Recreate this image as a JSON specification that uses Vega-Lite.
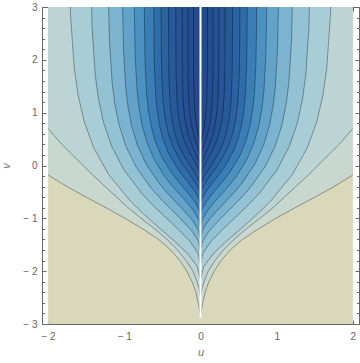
{
"$schema": "https://vega.github.io/schema/vega-lite/v6.json",
"width": 317, "height": 317,
"autosize": {"type": "none"},
"padding": {"left": 42, "top": 7, "right": 1, "bottom": 39},
"config": {"view": {"stroke": null}, "axis": {"labelFont": "Liberation Sans", "titleFont": "Liberation Sans", "labelColor": "#666", "tickColor": "#666", "domainColor": "#666", "grid": false, "labelFontSize": 10}},
"datasets": {
"bg": [{"u1": -2, "u2": 2, "v1": -3, "v2": 3}],
"cut": [{"u": 0, "v1": -2.89, "v2": 3}],
"c": [
{"lev":0,"v":-2.89,"uL":0,"uR":0},{"lev":0,"v":-2.75,"uL":-0.01,"uR":0.01},{"lev":0,"v":-2.6,"uL":-0.03,"uR":0.03},{"lev":0,"v":-2.4,"uL":-0.06,"uR":0.06},{"lev":0,"v":-2.2,"uL":-0.11,"uR":0.11},{"lev":0,"v":-2.0,"uL":-0.18,"uR":0.18},{"lev":0,"v":-1.8,"uL":-0.27,"uR":0.27},{"lev":0,"v":-1.6,"uL":-0.39,"uR":0.39},{"lev":0,"v":-1.4,"uL":-0.55,"uR":0.55},{"lev":0,"v":-1.2,"uL":-0.76,"uR":0.76},{"lev":0,"v":-1.0,"uL":-0.99,"uR":0.99},{"lev":0,"v":-0.8,"uL":-1.24,"uR":1.24},{"lev":0,"v":-0.6,"uL":-1.5,"uR":1.5},{"lev":0,"v":-0.4,"uL":-1.75,"uR":1.75},{"lev":0,"v":-0.18,"uL":-2,"uR":2},{"lev":0,"v":3,"uL":-2,"uR":2,"cap":1},
{"lev":1,"v":-2.5,"uL":0,"uR":0},{"lev":1,"v":-2.35,"uL":-0.015,"uR":0.015},{"lev":1,"v":-2.2,"uL":-0.045,"uR":0.045},{"lev":1,"v":-2.0,"uL":-0.1,"uR":0.1},{"lev":1,"v":-1.8,"uL":-0.19,"uR":0.19},{"lev":1,"v":-1.6,"uL":-0.3,"uR":0.3},{"lev":1,"v":-1.4,"uL":-0.44,"uR":0.44},{"lev":1,"v":-1.2,"uL":-0.6,"uR":0.6},{"lev":1,"v":-1.0,"uL":-0.78,"uR":0.78},{"lev":1,"v":-0.8,"uL":-0.95,"uR":0.95},{"lev":1,"v":-0.6,"uL":-1.1,"uR":1.1},{"lev":1,"v":-0.4,"uL":-1.25,"uR":1.25},{"lev":1,"v":-0.2,"uL":-1.4,"uR":1.4},{"lev":1,"v":0,"uL":-1.54,"uR":1.54},{"lev":1,"v":0.2,"uL":-1.68,"uR":1.68},{"lev":1,"v":0.4,"uL":-1.82,"uR":1.82},{"lev":1,"v":0.7,"uL":-2,"uR":2},{"lev":1,"v":3,"uL":-2,"uR":2,"cap":1},
{"lev":2,"v":-2.17,"uL":0,"uR":0},{"lev":2,"v":-1.92,"uL":-0.04,"uR":0.04},{"lev":2,"v":-1.67,"uL":-0.168,"uR":0.168},{"lev":2,"v":-1.42,"uL":-0.351,"uR":0.351},{"lev":2,"v":-1.17,"uL":-0.551,"uR":0.551},{"lev":2,"v":-0.92,"uL":-0.746,"uR":0.746},{"lev":2,"v":-0.67,"uL":-0.922,"uR":0.922},{"lev":2,"v":-0.17,"uL":-1.206,"uR":1.206},{"lev":2,"v":0.33,"uL":-1.4,"uR":1.4},{"lev":2,"v":0.83,"uL":-1.526,"uR":1.526},{"lev":2,"v":1.33,"uL":-1.606,"uR":1.606},{"lev":2,"v":1.83,"uL":-1.656,"uR":1.656},{"lev":2,"v":2.83,"uL":-1.705,"uR":1.705},{"lev":2,"v":3,"uL":-1.71,"uR":1.71},
{"lev":3,"v":-1.88,"uL":0,"uR":0},{"lev":3,"v":-1.655,"uL":-0.033,"uR":0.033},{"lev":3,"v":-1.43,"uL":-0.141,"uR":0.141},{"lev":3,"v":-1.205,"uL":-0.293,"uR":0.293},{"lev":3,"v":-0.98,"uL":-0.46,"uR":0.46},{"lev":3,"v":-0.755,"uL":-0.622,"uR":0.622},{"lev":3,"v":-0.53,"uL":-0.77,"uR":0.77},{"lev":3,"v":-0.08,"uL":-1.006,"uR":1.006},{"lev":3,"v":0.37,"uL":-1.168,"uR":1.168},{"lev":3,"v":0.82,"uL":-1.274,"uR":1.274},{"lev":3,"v":1.27,"uL":-1.34,"uR":1.34},{"lev":3,"v":1.72,"uL":-1.382,"uR":1.382},{"lev":3,"v":2.62,"uL":-1.423,"uR":1.423},{"lev":3,"v":3,"uL":-1.429,"uR":1.429},
{"lev":4,"v":-1.63,"uL":0,"uR":0},{"lev":4,"v":-1.43,"uL":-0.028,"uR":0.028},{"lev":4,"v":-1.23,"uL":-0.118,"uR":0.118},{"lev":4,"v":-1.03,"uL":-0.246,"uR":0.246},{"lev":4,"v":-0.83,"uL":-0.386,"uR":0.386},{"lev":4,"v":-0.63,"uL":-0.522,"uR":0.522},{"lev":4,"v":-0.43,"uL":-0.646,"uR":0.646},{"lev":4,"v":-0.03,"uL":-0.845,"uR":0.845},{"lev":4,"v":0.37,"uL":-0.981,"uR":0.981},{"lev":4,"v":0.77,"uL":-1.069,"uR":1.069},{"lev":4,"v":1.17,"uL":-1.125,"uR":1.125},{"lev":4,"v":1.57,"uL":-1.16,"uR":1.16},{"lev":4,"v":2.37,"uL":-1.195,"uR":1.195},{"lev":4,"v":3,"uL":-1.205,"uR":1.205},
{"lev":5,"v":-1.41,"uL":0,"uR":0},{"lev":5,"v":-1.23,"uL":-0.024,"uR":0.024},{"lev":5,"v":-1.05,"uL":-0.1,"uR":0.1},{"lev":5,"v":-0.87,"uL":-0.208,"uR":0.208},{"lev":5,"v":-0.69,"uL":-0.326,"uR":0.326},{"lev":5,"v":-0.51,"uL":-0.442,"uR":0.442},{"lev":5,"v":-0.33,"uL":-0.546,"uR":0.546},{"lev":5,"v":0.03,"uL":-0.714,"uR":0.714},{"lev":5,"v":0.39,"uL":-0.829,"uR":0.829},{"lev":5,"v":0.75,"uL":-0.904,"uR":0.904},{"lev":5,"v":1.11,"uL":-0.951,"uR":0.951},{"lev":5,"v":1.47,"uL":-0.981,"uR":0.981},{"lev":5,"v":2.19,"uL":-1.01,"uR":1.01},{"lev":5,"v":2.91,"uL":-1.021,"uR":1.021},{"lev":5,"v":3,"uL":-1.021,"uR":1.021},
{"lev":6,"v":-1.19,"uL":0,"uR":0},{"lev":6,"v":-1.03,"uL":-0.02,"uR":0.02},{"lev":6,"v":-0.87,"uL":-0.085,"uR":0.085},{"lev":6,"v":-0.7,"uL":-0.176,"uR":0.176},{"lev":6,"v":-0.54,"uL":-0.277,"uR":0.277},{"lev":6,"v":-0.38,"uL":-0.375,"uR":0.375},{"lev":6,"v":-0.22,"uL":-0.464,"uR":0.464},{"lev":6,"v":0.11,"uL":-0.606,"uR":0.606},{"lev":6,"v":0.44,"uL":-0.703,"uR":0.703},{"lev":6,"v":0.76,"uL":-0.767,"uR":0.767},{"lev":6,"v":1.09,"uL":-0.807,"uR":0.807},{"lev":6,"v":1.41,"uL":-0.832,"uR":0.832},{"lev":6,"v":2.06,"uL":-0.857,"uR":0.857},{"lev":6,"v":2.71,"uL":-0.866,"uR":0.866},{"lev":6,"v":3,"uL":-0.868,"uR":0.868},
{"lev":7,"v":-0.98,"uL":0,"uR":0},{"lev":7,"v":-0.835,"uL":-0.017,"uR":0.017},{"lev":7,"v":-0.69,"uL":-0.072,"uR":0.072},{"lev":7,"v":-0.545,"uL":-0.149,"uR":0.149},{"lev":7,"v":-0.4,"uL":-0.235,"uR":0.235},{"lev":7,"v":-0.255,"uL":-0.318,"uR":0.318},{"lev":7,"v":-0.11,"uL":-0.393,"uR":0.393},{"lev":7,"v":0.18,"uL":-0.514,"uR":0.514},{"lev":7,"v":0.47,"uL":-0.597,"uR":0.597},{"lev":7,"v":0.76,"uL":-0.65,"uR":0.65},{"lev":7,"v":1.05,"uL":-0.684,"uR":0.684},{"lev":7,"v":1.34,"uL":-0.706,"uR":0.706},{"lev":7,"v":1.92,"uL":-0.727,"uR":0.727},{"lev":7,"v":2.5,"uL":-0.734,"uR":0.734},{"lev":7,"v":3,"uL":-0.737,"uR":0.737},
{"lev":8,"v":-0.78,"uL":0,"uR":0},{"lev":8,"v":-0.65,"uL":-0.014,"uR":0.014},{"lev":8,"v":-0.52,"uL":-0.06,"uR":0.06},{"lev":8,"v":-0.39,"uL":-0.124,"uR":0.124},{"lev":8,"v":-0.26,"uL":-0.195,"uR":0.195},{"lev":8,"v":-0.13,"uL":-0.264,"uR":0.264},{"lev":8,"v":0.0,"uL":-0.327,"uR":0.327},{"lev":8,"v":0.26,"uL":-0.427,"uR":0.427},{"lev":8,"v":0.52,"uL":-0.496,"uR":0.496},{"lev":8,"v":0.78,"uL":-0.54,"uR":0.54},{"lev":8,"v":1.04,"uL":-0.569,"uR":0.569},{"lev":8,"v":1.3,"uL":-0.586,"uR":0.586},{"lev":8,"v":1.82,"uL":-0.604,"uR":0.604},{"lev":8,"v":2.34,"uL":-0.61,"uR":0.61},{"lev":8,"v":3,"uL":-0.613,"uR":0.613},
{"lev":9,"v":-0.59,"uL":0,"uR":0},{"lev":9,"v":-0.47,"uL":-0.012,"uR":0.012},{"lev":9,"v":-0.36,"uL":-0.05,"uR":0.05},{"lev":9,"v":-0.24,"uL":-0.105,"uR":0.105},{"lev":9,"v":-0.12,"uL":-0.164,"uR":0.164},{"lev":9,"v":0.0,"uL":-0.223,"uR":0.223},{"lev":9,"v":0.12,"uL":-0.275,"uR":0.275},{"lev":9,"v":0.35,"uL":-0.36,"uR":0.36},{"lev":9,"v":0.59,"uL":-0.418,"uR":0.418},{"lev":9,"v":0.82,"uL":-0.455,"uR":0.455},{"lev":9,"v":1.06,"uL":-0.479,"uR":0.479},{"lev":9,"v":1.29,"uL":-0.494,"uR":0.494},{"lev":9,"v":1.76,"uL":-0.509,"uR":0.509},{"lev":9,"v":2.23,"uL":-0.514,"uR":0.514},{"lev":9,"v":3,"uL":-0.517,"uR":0.517},
{"lev":10,"v":-0.43,"uL":0,"uR":0},{"lev":10,"v":-0.33,"uL":-0.01,"uR":0.01},{"lev":10,"v":-0.22,"uL":-0.041,"uR":0.041},{"lev":10,"v":-0.12,"uL":-0.085,"uR":0.085},{"lev":10,"v":-0.01,"uL":-0.134,"uR":0.134},{"lev":10,"v":0.1,"uL":-0.181,"uR":0.181},{"lev":10,"v":0.2,"uL":-0.224,"uR":0.224},{"lev":10,"v":0.41,"uL":-0.293,"uR":0.293},{"lev":10,"v":0.62,"uL":-0.34,"uR":0.34},{"lev":10,"v":0.83,"uL":-0.371,"uR":0.371},{"lev":10,"v":1.04,"uL":-0.39,"uR":0.39},{"lev":10,"v":1.25,"uL":-0.402,"uR":0.402},{"lev":10,"v":1.67,"uL":-0.414,"uR":0.414},{"lev":10,"v":2.09,"uL":-0.418,"uR":0.418},{"lev":10,"v":3,"uL":-0.421,"uR":0.421},
{"lev":11,"v":-0.24,"uL":0,"uR":0},{"lev":11,"v":-0.145,"uL":-0.008,"uR":0.008},{"lev":11,"v":-0.05,"uL":-0.031,"uR":0.031},{"lev":11,"v":0.045,"uL":-0.066,"uR":0.066},{"lev":11,"v":0.14,"uL":-0.103,"uR":0.103},{"lev":11,"v":0.235,"uL":-0.139,"uR":0.139},{"lev":11,"v":0.33,"uL":-0.172,"uR":0.172},{"lev":11,"v":0.52,"uL":-0.225,"uR":0.225},{"lev":11,"v":0.71,"uL":-0.262,"uR":0.262},{"lev":11,"v":0.9,"uL":-0.285,"uR":0.285},{"lev":11,"v":1.09,"uL":-0.3,"uR":0.3},{"lev":11,"v":1.28,"uL":-0.309,"uR":0.309},{"lev":11,"v":1.66,"uL":-0.319,"uR":0.319},{"lev":11,"v":2.04,"uL":-0.322,"uR":0.322},{"lev":11,"v":3,"uL":-0.324,"uR":0.324},
{"lev":12,"v":-0.09,"uL":0,"uR":0},{"lev":12,"v":0.0,"uL":-0.006,"uR":0.006},{"lev":12,"v":0.085,"uL":-0.023,"uR":0.023},{"lev":12,"v":0.17,"uL":-0.049,"uR":0.049},{"lev":12,"v":0.26,"uL":-0.077,"uR":0.077},{"lev":12,"v":0.35,"uL":-0.104,"uR":0.104},{"lev":12,"v":0.44,"uL":-0.128,"uR":0.128},{"lev":12,"v":0.61,"uL":-0.168,"uR":0.168},{"lev":12,"v":0.79,"uL":-0.195,"uR":0.195},{"lev":12,"v":0.96,"uL":-0.212,"uR":0.212},{"lev":12,"v":1.14,"uL":-0.223,"uR":0.223},{"lev":12,"v":1.31,"uL":-0.23,"uR":0.23},{"lev":12,"v":1.66,"uL":-0.237,"uR":0.237},{"lev":12,"v":2.01,"uL":-0.24,"uR":0.24},{"lev":12,"v":3,"uL":-0.241,"uR":0.241},
{"lev":13,"v":0.1,"uL":0,"uR":0},{"lev":13,"v":0.18,"uL":-0.004,"uR":0.004},{"lev":13,"v":0.26,"uL":-0.016,"uR":0.016},{"lev":13,"v":0.34,"uL":-0.034,"uR":0.034},{"lev":13,"v":0.42,"uL":-0.053,"uR":0.053},{"lev":13,"v":0.5,"uL":-0.071,"uR":0.071},{"lev":13,"v":0.58,"uL":-0.088,"uR":0.088},{"lev":13,"v":0.74,"uL":-0.115,"uR":0.115},{"lev":13,"v":0.9,"uL":-0.134,"uR":0.134},{"lev":13,"v":1.06,"uL":-0.146,"uR":0.146},{"lev":13,"v":1.22,"uL":-0.154,"uR":0.154},{"lev":13,"v":1.38,"uL":-0.158,"uR":0.158},{"lev":13,"v":1.7,"uL":-0.163,"uR":0.163},{"lev":13,"v":2.02,"uL":-0.165,"uR":0.165},{"lev":13,"v":3,"uL":-0.166,"uR":0.166},
{"lev":14,"v":0.29,"uL":0,"uR":0},{"lev":14,"v":0.37,"uL":-0.002,"uR":0.002},{"lev":14,"v":0.44,"uL":-0.009,"uR":0.009},{"lev":14,"v":0.52,"uL":-0.019,"uR":0.019},{"lev":14,"v":0.59,"uL":-0.029,"uR":0.029},{"lev":14,"v":0.67,"uL":-0.04,"uR":0.04},{"lev":14,"v":0.74,"uL":-0.049,"uR":0.049},{"lev":14,"v":0.89,"uL":-0.064,"uR":0.064},{"lev":14,"v":1.04,"uL":-0.074,"uR":0.074},{"lev":14,"v":1.19,"uL":-0.081,"uR":0.081},{"lev":14,"v":1.34,"uL":-0.085,"uR":0.085},{"lev":14,"v":1.49,"uL":-0.088,"uR":0.088},{"lev":14,"v":1.79,"uL":-0.0905,"uR":0.0905},{"lev":14,"v":2.09,"uL":-0.0914,"uR":0.0914},{"lev":14,"v":3,"uL":-0.092,"uR":0.092}
]
},
"layer": [
{"data": {"name": "bg"}, "mark": {"type": "rect", "color": "#dad8ba"},
 "encoding": {
  "x": {"field": "u1", "type": "quantitative", "scale": {"domain": [-2.08, 2.08], "nice": false, "zero": false},
        "axis": {"orient": "bottom", "values": [-2, -1, 0, 1, 2], "tickSize": -4, "labelPadding": 11, "labelFlush": false,
                 "labelExpr": "datum.value < 0 ? '\u2212 ' + abs(datum.value) : '' + datum.value",
                 "title": "u", "titleFontStyle": "italic", "titleFontWeight": "normal", "titleFontSize": 11, "titleColor": "#777", "titlePadding": 5}},
  "x2": {"field": "u2"},
  "y": {"field": "v1", "type": "quantitative", "scale": {"domain": [-3, 3], "nice": false, "zero": false},
        "axis": {"orient": "left", "values": [-3, -2, -1, 0, 1, 2, 3], "tickSize": -4, "labelPadding": 9, "labelFlush": false,
                 "labelExpr": "datum.value < 0 ? '\u2212 ' + abs(datum.value) : '' + datum.value",
                 "title": "v", "titleFontStyle": "italic", "titleFontWeight": "normal", "titleFontSize": 11, "titleColor": "#777", "titlePadding": 11}},
  "y2": {"field": "v2"}
 }},
{"data": {"name": "c"}, "mark": {"type": "area", "orient": "horizontal"},
 "encoding": {
  "y": {"field": "v", "type": "quantitative", "scale": {"domain": [-3, 3], "nice": false, "zero": false},
        "axis": {"orient": "left", "values": [-2.8,-2.6,-2.4,-2.2,-1.8,-1.6,-1.4,-1.2,-0.8,-0.6,-0.4,-0.2,0.2,0.4,0.6,0.8,1.2,1.4,1.6,1.8,2.2,2.4,2.6,2.8], "tickSize": -2.5, "labels": false, "domain": false, "title": null}},
  "x": {"field": "uL", "type": "quantitative", "stack": null, "scale": {"domain": [-2.08, 2.08], "nice": false, "zero": false},
        "axis": {"orient": "bottom", "values": [-1.8,-1.6,-1.4,-1.2,-0.8,-0.6,-0.4,-0.2,0.2,0.4,0.6,0.8,1.2,1.4,1.6,1.8], "tickSize": -2.5, "labels": false, "domain": false, "title": null}},
  "x2": {"field": "uR"},
  "color": {"field": "lev", "type": "ordinal", "legend": null,
            "scale": {"domain": [0,1,2,3,4,5,6,7,8,9,10,11,12,13,14],
                      "range": ["#c9d8cf","#bcd4d3","#a9cdd6","#93c2d5","#7bb3d0","#63a3ca","#4b91c2","#3b7db6","#306ca9","#2b62a1","#285a9b","#265496","#255092","#244d8f","#234a8c"]}}
 }},
{"data": {"name": "c"}, "transform": [{"filter": "!datum.cap"}],
 "mark": {"type": "line", "stroke": "#000", "strokeWidth": 0.9, "opacity": 0.38},
 "encoding": {
  "x": {"field": "uL", "type": "quantitative", "scale": {"domain": [-2.08, 2.08], "nice": false, "zero": false},
        "axis": {"orient": "top", "values": [-2, -1, 0, 1, 2], "tickSize": -4, "labels": false, "title": null}},
  "y": {"field": "v", "type": "quantitative", "scale": {"domain": [-3, 3], "nice": false, "zero": false},
        "axis": {"orient": "right", "values": [-3, -2, -1, 0, 1, 2, 3], "tickSize": -4, "labels": false, "title": null}},
  "detail": {"field": "lev"},
  "order": {"field": "v"}
 }},
{"data": {"name": "c"}, "transform": [{"filter": "!datum.cap"}],
 "mark": {"type": "line", "stroke": "#000", "strokeWidth": 0.9, "opacity": 0.38},
 "encoding": {
  "x": {"field": "uR", "type": "quantitative", "scale": {"domain": [-2.08, 2.08], "nice": false, "zero": false},
        "axis": {"orient": "top", "values": [-1.8,-1.6,-1.4,-1.2,-0.8,-0.6,-0.4,-0.2,0.2,0.4,0.6,0.8,1.2,1.4,1.6,1.8], "tickSize": -2.5, "labels": false, "domain": false, "title": null}},
  "y": {"field": "v", "type": "quantitative", "scale": {"domain": [-3, 3], "nice": false, "zero": false},
        "axis": {"orient": "right", "values": [-2.8,-2.6,-2.4,-2.2,-1.8,-1.6,-1.4,-1.2,-0.8,-0.6,-0.4,-0.2,0.2,0.4,0.6,0.8,1.2,1.4,1.6,1.8,2.2,2.4,2.6,2.8], "tickSize": -2.5, "labels": false, "domain": false, "title": null}},
  "detail": {"field": "lev"},
  "order": {"field": "v"}
 }},
{"data": {"name": "cut"}, "mark": {"type": "rule", "color": "#ffffff", "strokeWidth": 2},
 "encoding": {
  "x": {"field": "u", "type": "quantitative", "scale": {"domain": [-2.08, 2.08], "nice": false, "zero": false}, "axis": null},
  "y": {"field": "v1", "type": "quantitative", "scale": {"domain": [-3, 3], "nice": false, "zero": false}, "axis": null},
  "y2": {"field": "v2"}
 }}
],
"resolve": {"axis": {"x": "independent", "y": "independent"}}
}
